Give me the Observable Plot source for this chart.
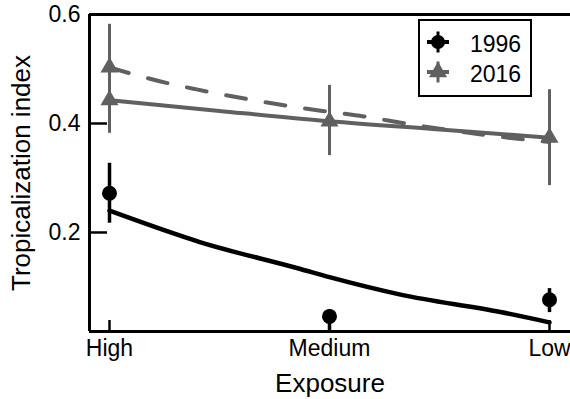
<!DOCTYPE html>
<html><head><meta charset="utf-8">
<script src="https://cdn.jsdelivr.net/npm/d3@7"></script>
<script src="https://cdn.jsdelivr.net/npm/@observablehq/plot@0.6"></script>
<style>
html,body{margin:0;padding:0;background:#fff;}
#chart{position:relative;width:570px;height:399px;font-family:"Liberation Sans",Arial,sans-serif;}
</style></head><body><div id="chart"></div>
<script>
// ---- data ----
const exposureLabels = ["High", "Medium", "Low"];
const exposureIndex = [0, 1, 2];
const yTicks = [0.2, 0.4, 0.6];
const xTitle = "Exposure";
const yTitle = "Tropicalization index";
const seriesNames = ["1996", "2016"];

// 1996 observed means and error bars
const obs1996 = [0.272, 0.046, 0.0765];
const lo1996 = [0.217, 0.010, 0.053];
const hi1996 = [0.327, 0.058, 0.097];
// 2016 observed means and error bars
const obs2016 = [0.443, 0.404, 0.374];
const lo2016 = [0.382, 0.341, 0.286];
const hi2016 = [0.582, 0.470, 0.462];
// second 2016 triangle at High (start of dashed fit)
const extra2016X = [0];
const extra2016Y = [0.503];

// fitted curves
const fit1996X = [0, 0.414, 0.868, 1, 1.323, 1.777, 2];
const fit1996Y = [0.240, 0.182, 0.133, 0.118, 0.086, 0.054, 0.035];
const fit2016X = [0, 0.5, 1, 1.5, 2];
const fit2016Y = [0.443, 0.423, 0.404, 0.389, 0.374];
const dash2016X = [0, 0.223, 0.391, 0.786, 0.968, 1.155, 1.345, 1.9, 2];
const dash2016Y = [0.503, 0.478, 0.463, 0.434, 0.423, 0.413, 0.400, 0.370, 0.366];

// ---- build tables ----
const pts = (xs, ys) => xs.map((x, i) => ({x, y: ys[i]}));
const obs = (ys, lo, hi) => exposureIndex.map((x, i) => ({x, y: ys[i], lo: lo[i], hi: hi[i]}));
const t1996 = obs(obs1996, lo1996, hi1996);
const t2016 = obs(obs2016, lo2016, hi2016);

const gray = "#606060";
const xDomain = [-0.0909, 2.0955];
const yDomain = [0.0183, 0.6];
const W = 570, H = 399, mL = 89, mR = 0, mT = 14, mB = 68;
const frameW = W - mL - mR, frameH = H - mT - mB;

const chart = Plot.plot({
  width: W, height: H,
  marginLeft: mL, marginRight: mR, marginTop: mT, marginBottom: mB,
  style: {fontFamily: "'Liberation Sans', Arial, sans-serif", fontSize: "23px", color: "black", background: "white", overflow: "visible"},
  x: {type: "linear", domain: xDomain},
  y: {domain: yDomain},
  marks: [
    Plot.axisY(yTicks, {tickSize: 0, tickPadding: 9, tickFormat: d3.format(".1f"), label: null, fontSize: 23}),
    Plot.axisX(exposureIndex, {tickSize: 0, tickPadding: 8, tickFormat: i => exposureLabels[i], label: null, fontSize: 23}),
    Plot.text([yTitle], {frameAnchor: "left", dx: -78, rotate: -90, lineAnchor: "top", textAnchor: "middle", fontSize: 26}),
    Plot.text([xTitle], {frameAnchor: "bottom", dy: 42, lineAnchor: "top", textAnchor: "middle", fontSize: 26}),
    // inward ticks
    Plot.ruleY(yTicks, {stroke: "black", strokeWidth: 2.5, insetRight: frameW - 18}),
    Plot.ruleX(exposureIndex, {stroke: "black", strokeWidth: 2.5, insetTop: frameH - 11}),
    // fits
    Plot.line(pts(dash2016X, dash2016Y), {x: "x", y: "y", stroke: gray, strokeWidth: 4, strokeDasharray: "20,20", curve: "monotone-x"}),
    Plot.line(pts(fit2016X, fit2016Y), {x: "x", y: "y", stroke: gray, strokeWidth: 4, curve: "monotone-x"}),
    Plot.line(pts(fit1996X, fit1996Y), {x: "x", y: "y", stroke: "black", strokeWidth: 4.5, curve: "monotone-x"}),
    // 2016 points
    Plot.ruleX(t2016, {x: "x", y1: "lo", y2: "hi", stroke: gray, strokeWidth: 3}),
    Plot.dot(t2016, {x: "x", y: "y", symbol: "triangle", r: 6.7, fill: gray, stroke: null}),
    Plot.dot(pts(extra2016X, extra2016Y), {x: "x", y: "y", symbol: "triangle", r: 6.7, fill: gray, stroke: null}),
    // 1996 points
    Plot.ruleX(t1996, {x: "x", y1: "lo", y2: "hi", stroke: "black", strokeWidth: 3.5, clip: true}),
    Plot.dot(t1996, {x: "x", y: "y", r: 7.5, fill: "black", stroke: null}),
    // frame (left, top, bottom)
    Plot.ruleX([xDomain[0]], {stroke: "black", strokeWidth: 3}),
    Plot.ruleY([yDomain[0]], {stroke: "black", strokeWidth: 3}),
    Plot.ruleY([yDomain[1]], {stroke: "black", strokeWidth: 3})
  ]
});
document.getElementById("chart").appendChild(chart);

// ---- legend overlay ----
const leg = d3.select("#chart").append("div")
  .style("position", "absolute").style("left", "418px").style("top", "19px")
  .style("width", "114px").style("height", "78px").style("box-sizing", "border-box")
  .style("border", "2px solid black").style("background", "white");
const svg = leg.append("svg").attr("width", 110).attr("height", 74)
  .style("position", "absolute").style("left", "0px").style("top", "0px");
const legendRows = [
  {name: seriesNames[0], color: "black", symbol: d3.symbolCircle, size: Math.PI * 7 * 7},
  {name: seriesNames[1], color: gray, symbol: d3.symbolTriangle, size: Math.PI * 6.7 * 6.7}
];
legendRows.forEach((r, i) => {
  const cy = 21 + i * 30, cx = 18;
  const g = svg.append("g");
  g.append("line").attr("x1", cx - 11).attr("x2", cx + 11).attr("y1", cy).attr("y2", cy)
    .attr("stroke", r.color).attr("stroke-width", 4);
  g.append("line").attr("x1", cx).attr("x2", cx).attr("y1", cy - 10.5).attr("y2", cy + 10.5)
    .attr("stroke", r.color).attr("stroke-width", 3);
  g.append("path").attr("d", d3.symbol(r.symbol, r.size)()).attr("transform", `translate(${cx},${cy})`)
    .attr("fill", r.color);
  svg.append("text").attr("x", 50).attr("y", cy + 10).text(r.name)
    .attr("font-size", 23).attr("font-family", "'Liberation Sans', Arial, sans-serif").attr("fill", "black");
});
</script>
</body></html>
